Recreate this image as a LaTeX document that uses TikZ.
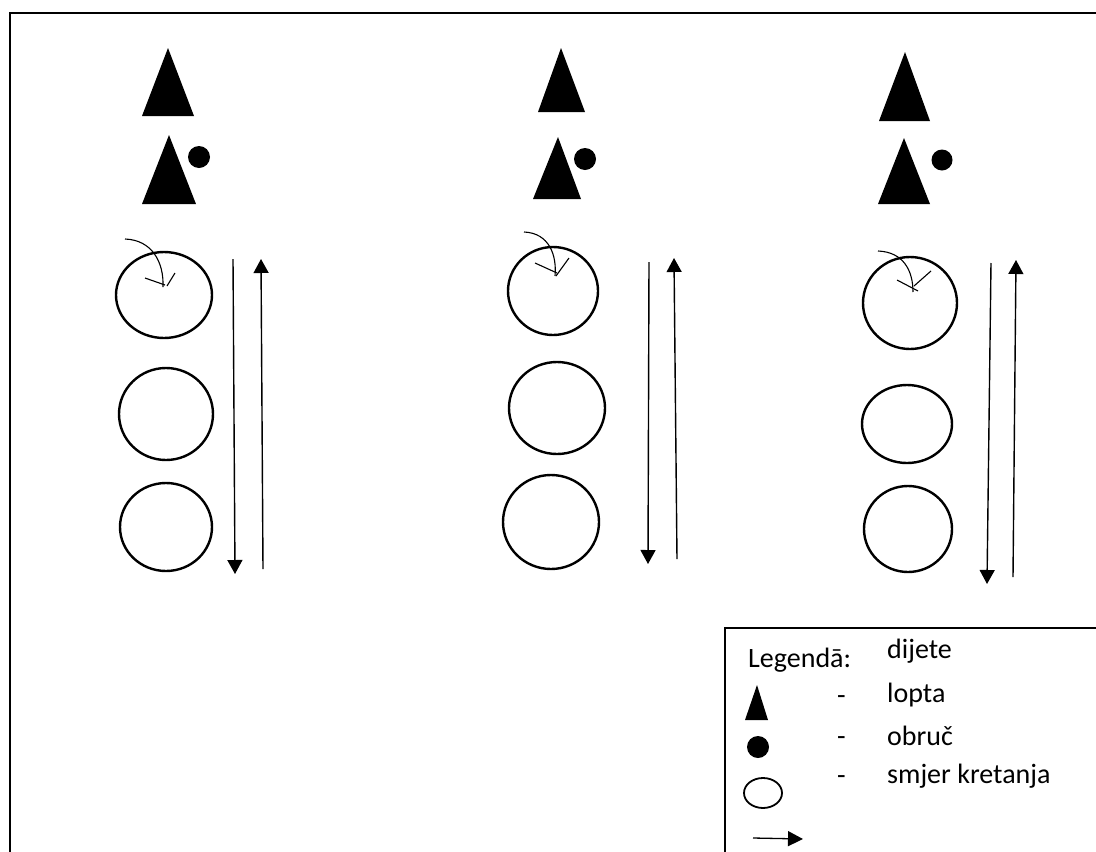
\documentclass[tikz,border=0pt]{standalone}
\usepackage{fontspec}
\setmainfont{Carlito}
\usetikzlibrary{arrows.meta}
\begin{document}
\begin{tikzpicture}[x=1pt,y=-1pt,
  hoop/.style={line width=2.4pt},
  flow/.style={line width=1.4pt,-{Triangle[length=14pt,width=15pt]}},
  plainline/.style={line width=1.4pt},
  turn/.style={line width=1.1pt},
  frame/.style={line width=2pt},
  legtext/.style={anchor=base west,inner sep=0pt,font=\fontsize{28}{32}\selectfont}]
\useasboundingbox (0,0) rectangle (1096,852);
\fill[white] (0,0) rectangle (1096,852);
% outer frame
\draw[frame] (10,852) -- (10,13) -- (1096,13);

% ---------- column 1 ----------
\fill (142,116) -- (168,48) -- (194,116) -- cycle;
\fill (142,204) -- (169,135) -- (196,204) -- cycle;
\fill (199,157) circle[radius=11pt];
\draw[hoop] (164,295) ellipse[x radius=48pt,y radius=43pt];
\draw[hoop] (166,414) ellipse[x radius=47pt,y radius=46pt];
\draw[hoop] (166,527) ellipse[x radius=46pt,y radius=44pt];
\coordinate (d1s) at (233,259); \coordinate (d1e) at (235,574);
\coordinate (u1s) at (263,569); \coordinate (u1e) at (261,259);
\draw[flow] (d1s) -- (d1e);
\draw[flow] (u1s) -- (u1e);
\draw[turn] (125,239) .. controls (152,240) and (164,262) .. (163,287);
\draw[turn] (145,278) -- (165,285);
\draw[turn] (175,273) -- (167,286);

% ---------- column 2 ----------
\fill (538,112) -- (561,48) -- (585,112) -- cycle;
\fill (533,199) -- (558,137) -- (581,199) -- cycle;
\fill (585,159) circle[radius=11pt];
\draw[hoop] (553,291) ellipse[x radius=45pt,y radius=44pt];
\draw[hoop] (557,408) ellipse[x radius=48pt,y radius=46pt];
\draw[hoop] (551,522) ellipse[x radius=48pt,y radius=47pt];
\coordinate (d2s) at (649,262); \coordinate (d2e) at (648,564);
\coordinate (u2s) at (677,559); \coordinate (u2e) at (674,258);
\draw[flow] (d2s) -- (d2e);
\draw[flow] (u2s) -- (u2e);
\draw[turn] (524,232) .. controls (549,233) and (557,255) .. (555,276);
\draw[turn] (535,263) -- (557,273);
\draw[turn] (569,258) -- (556,276);

% ---------- column 3 ----------
\fill (879,121) -- (905,52) -- (930,121) -- cycle;
\fill (878,204) -- (904,138) -- (930,204) -- cycle;
\fill (942,160) circle[radius=10.5pt];
\draw[hoop] (910,303) ellipse[x radius=47pt,y radius=46pt];
\draw[hoop] (907,424) ellipse[x radius=45pt,y radius=39pt];
\draw[hoop] (908,529) ellipse[x radius=44pt,y radius=43pt];
\coordinate (d3s) at (991,263); \coordinate (d3e) at (987,584);
\coordinate (u3s) at (1013,577); \coordinate (u3e) at (1016,260);
\draw[flow] (d3s) -- (d3e);
\draw[flow] (u3s) -- (u3e);
\draw[turn] (878,251) .. controls (903,252) and (913,270) .. (913,292);
\draw[turn] (897,280) -- (918,291);
\draw[turn] (931,271) -- (914,286);

% ---------- legend ----------
\draw[line width=1.3pt] (1096,628) -- (725,628) -- (725,852);
\node[legtext] (leg) at (748,667) {Legendā:};
\node[legtext] (t1) at (887,658) {dijete};
\node[legtext] (t2) at (887,702) {lopta};
\node[legtext] (t3) at (887,745) {obruč};
\node[legtext] (t4) at (887,783) {smjer kretanja};
\node[legtext] (h1) at (837,704) {-};
\node[legtext] (h2) at (837,745) {-};
\node[legtext] (h3) at (837,784) {-};
\fill (745,720) -- (757,685) -- (768,720) -- cycle;
\fill (758,747) circle[radius=11pt];
\draw[line width=1.8pt] (763,793) ellipse[x radius=19pt,y radius=15pt];
\coordinate (la) at (753,838); \coordinate (lb) at (803,839);
\draw[line width=1.3pt,-{Triangle[length=15pt,width=15pt]}] (la) -- (lb);
\end{tikzpicture}
\end{document}
